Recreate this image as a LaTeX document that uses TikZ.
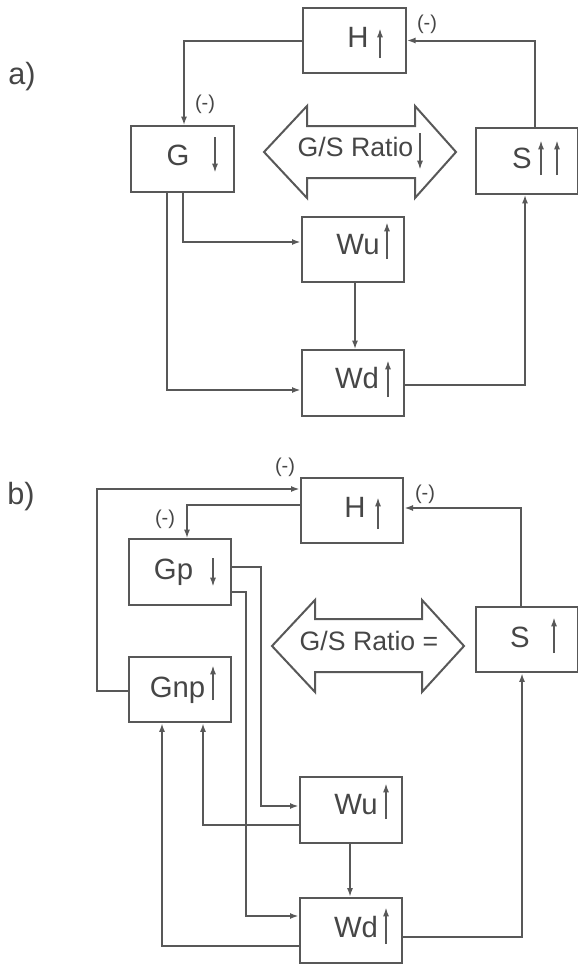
\documentclass[tikz,border=0pt]{standalone}
\usepackage{fontspec}
\setmainfont{Liberation Sans}
\usetikzlibrary{arrows.meta}
\definecolor{linegray}{RGB}{88,88,88}
\definecolor{textgray}{RGB}{70,70,70}

\begin{document}
\begin{tikzpicture}[x=0.75pt,y=-0.75pt,
    blk/.style={draw=linegray, line width=1.5pt, minimum width=77pt, minimum height=49pt, inner sep=0pt},
    lbl/.style={text=textgray, font=\fontsize{22}{24}\selectfont, inner sep=0pt, text height=15.5pt, text depth=0pt},
    ratio/.style={text=textgray, font=\fontsize{20}{22}\selectfont, inner sep=0pt, text height=14pt, text depth=0pt},
    neg/.style={text=textgray, font=\fontsize{15}{17}\selectfont, inner sep=0pt},
    panel/.style={text=textgray, font=\fontsize{23}{25}\selectfont, inner sep=0pt},
    conn/.style={draw=linegray, line width=1.5pt, -{Latex[length=6.5pt,width=4.5pt]}},
    trend/.style={draw=linegray, line width=1.5pt, -{Latex[length=7pt,width=4.5pt]}},
    outline/.style={draw=linegray, line width=1.5pt, line join=miter}]
  \useasboundingbox (0,0) rectangle (578,967);

  % a) one pool of G
  \node[panel] (pa) at (22,77) {a)};
  \node[blk] (Ha) at (354.5,40.5) {};
  \node[blk] (Ga) at (182.5,159) {};
  \node[blk] (Sa) at (527,161) {};
  \node[blk] (Wua) at (353,249.5) {};
  \node[blk] (Wda) at (353,383) {};
  \node[lbl] (HaL) at (358,37) {H};
  \node[lbl] (GaL) at (178,155) {G};
  \node[lbl] (SaL) at (522,158) {S};
  \node[lbl] (WuaL) at (358,244) {Wu};
  \node[lbl] (WdaL) at (357,378) {Wd};
  \draw[trend] (380,58) -- (380,28);
  \draw[trend] (215,137) -- (215,173);
  \foreach \x in {541,557}
    \draw[trend] (\x,175) -- (\x,140);
  \draw[trend] (387,259) -- (387,222);
  \draw[trend] (388,397) -- (388,360);
  \draw[outline] (264,152) -- (307,106) -- (307,126) -- (415,126) -- (415,106) -- (456,152)
    -- (415,198) -- (415,178) -- (307,178) -- (307,198) -- cycle;
  \node[ratio] (ra) at (355.5,147) {G/S Ratio};
  \draw[trend] (420,133) -- (420,170);
  \draw[conn] (Ha.west) -| (Ga.north -| 184,0);
  \node[neg] (na1) at (205,104) {(-)};
  \draw[conn] (Sa.north -| 535,0) |- (Ha.east);
  \node[neg] (na2) at (427,24) {(-)};
  \draw[conn] (Ga.south -| 183,0) |- (Wua.west |- 0,242);
  \draw[conn] (Ga.south -| 167,0) |- (Wda.west |- 0,390);
  \draw[conn] (Wua.south -| 355,0) -- (Wda.north -| 355,0);
  \draw[conn] (Wda.east |- 0,385) -| (Sa.south -| 525,0);

  % b) G split in Gp and Gnp
  \node[panel] (pb) at (21,497) {b)};
  \node[blk] (Hb) at (352,510.5) {};
  \node[blk] (Gp) at (180,572) {};
  \node[blk] (Gnp) at (180,689.5) {};
  \node[blk] (Sb) at (527,639.5) {};
  \node[blk] (Wub) at (351,810) {};
  \node[blk] (Wdb) at (351,930.5) {};
  \node[lbl] (HbL) at (355,507) {H};
  \node[lbl] (GpL) at (173.5,569) {Gp};
  \node[lbl] (GnpL) at (177.5,687) {Gnp};
  \node[lbl] (SbL) at (520,637) {S};
  \node[lbl] (WubL) at (356,804) {Wu};
  \node[lbl] (WdbL) at (356,927) {Wd};
  \draw[trend] (378,529) -- (378,497);
  \draw[trend] (213,558) -- (213,587);
  \draw[trend] (213,700) -- (213,665);
  \draw[trend] (554,653) -- (554,617);
  \draw[trend] (386,819) -- (386,783);
  \draw[trend] (386,944) -- (386,907);
  \draw[outline] (272,646) -- (315,600) -- (315,619) -- (422,619) -- (422,600) -- (464,646)
    -- (422,692) -- (422,672) -- (315,672) -- (315,692) -- cycle;
  \node[ratio] (rb) at (369,641) {G/S Ratio =};
  \draw[conn] (Gnp.west |- 0,691) -- ++(-31,0) |- (Hb.west |- 0,489);
  \node[neg] (nb1) at (285,467) {(-)};
  \draw[conn] (Hb.west |- 0,505) -| (Gp.north -| 187,0);
  \node[neg] (nb2) at (165,519) {(-)};
  \draw[conn] (Sb.north -| 521,0) |- (Hb.east |- 0,508);
  \node[neg] (nb3) at (425,494) {(-)};
  \draw[conn] (Gp.east |- 0,567) -- ++(29,0) |- (Wub.west |- 0,806);
  \draw[conn] (Gp.east |- 0,592) -- ++(14,0) |- (Wdb.west |- 0,916);
  \draw[conn] (Wub.west |- 0,825) -| (Gnp.south -| 203,0);
  \draw[conn] (Wdb.west |- 0,946) -| (Gnp.south -| 162,0);
  \draw[conn] (Wub.south -| 350,0) -- (Wdb.north -| 350,0);
  \draw[conn] (Wdb.east |- 0,937) -| (Sb.south -| 522,0);
\end{tikzpicture}
\end{document}
